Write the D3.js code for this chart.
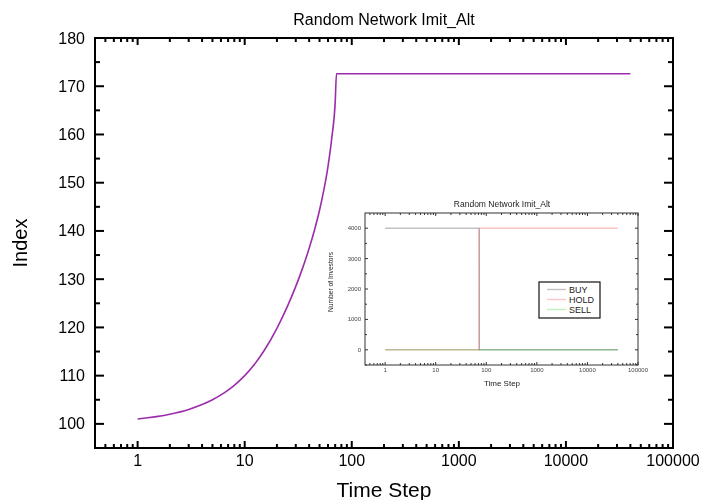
<!DOCTYPE html>
<html>
<head>
<meta charset="utf-8">
<script src="https://cdn.jsdelivr.net/npm/d3@7/dist/d3.min.js"></script>
<style>
  html, body { margin: 0; padding: 0; background: #fff; }
  svg { display: block; font-family: "Liberation Sans", Arial, sans-serif; }
</style>
</head>
<body>
<svg id="chart" width="704" height="500"></svg>
<script>
// Index value over time (main panel)
const timeSteps = [1, 2, 3, 4, 5, 6, 7, 8, 10, 12, 15, 20, 25, 30, 35, 40, 45, 50, 55, 60, 65, 70, 72, 40000];
const indexValues = [101.0, 102.0, 103.0, 104.0, 105.0, 106.0, 107.0, 108.0, 110.0, 112.0, 115.0, 119.8, 124.3, 128.5, 132.5, 136.4, 140.3, 144.3, 148.6, 153.4, 159.2, 166.6, 172.6, 172.6];

// Investor counts per state (inset panel)
const investorSteps = [1, 72, 73, 40000];
const buyCounts = [4000, 4000, 0, 0];
const holdCounts = [0, 0, 4000, 4000];
const sellCounts = [0, 0, 0, 0];
const seriesNames = ["BUY", "HOLD", "SELL"];
const seriesColors = ["#c2c2c2", "#ffc4c4", "#bff2bf"];

// Tick values
const decadeTicks = [1, 10, 100, 1000, 10000, 100000];
const indexTicks = [100, 110, 120, 130, 140, 150, 160, 170, 180];
const countTicks = [0, 1000, 2000, 3000, 4000];

const titleText = "Random Network Imit_Alt";

const svg = d3.select("#chart");

function minorLogTicks(lo, hi) {
  const out = [];
  for (let e = -1; e <= 5; e++) {
    for (let m = 2; m <= 9; m++) {
      const v = m * Math.pow(10, e);
      if (v > lo && v < hi) out.push(v);
    }
  }
  return out;
}

function drawFrame(g, x, y, opts) {
  const [x0, x1] = x.range();
  const [y0, y1] = y.range(); // y0 bottom, y1 top
  const xMinor = minorLogTicks(x.domain()[0], x.domain()[1]);

  // inward ticks on all four sides
  const ticks = g.append("g").attr("stroke", opts.color).attr("stroke-width", opts.tickWidth);
  const vTick = (v, len) => {
    ticks.append("line").attr("x1", x(v)).attr("x2", x(v)).attr("y1", y0).attr("y2", y0 - len);
    ticks.append("line").attr("x1", x(v)).attr("x2", x(v)).attr("y1", y1).attr("y2", y1 + len);
  };
  const hTick = (v, len) => {
    ticks.append("line").attr("y1", y(v)).attr("y2", y(v)).attr("x1", x0).attr("x2", x0 + len);
    ticks.append("line").attr("y1", y(v)).attr("y2", y(v)).attr("x1", x1).attr("x2", x1 - len);
  };
  decadeTicks.forEach(v => vTick(v, opts.xMajor));
  xMinor.forEach(v => vTick(v, opts.xMinor));
  opts.yMajorTicks.forEach(v => hTick(v, opts.yMajor));
  opts.yMinor.forEach(v => hTick(v, opts.yMinorLen));

  g.append("rect")
    .attr("x", x0).attr("y", y1)
    .attr("width", x1 - x0).attr("height", y0 - y1)
    .attr("fill", "none")
    .attr("stroke", opts.color).attr("stroke-width", opts.axisWidth);

  // tick labels
  const labels = g.append("g").attr("fill", opts.textColor).attr("font-size", opts.tickFont);
  decadeTicks.forEach(v => {
    labels.append("text")
      .attr("x", x(v)).attr("y", y0 + opts.xLabelGap)
      .attr("text-anchor", "middle").attr("dominant-baseline", "hanging")
      .text(d3.format("d")(v));
  });
  opts.yMajorTicks.forEach(v => {
    labels.append("text")
      .attr("x", x0 - opts.yLabelGap).attr("y", y(v))
      .attr("text-anchor", "end").attr("dominant-baseline", "central")
      .text(v);
  });
}

// ---------- Main panel ----------
const x = d3.scaleLog().domain([0.4, 100000]).range([95, 673]);
const y = d3.scaleLinear().domain([95, 180]).range([448, 38]);

const main = svg.append("g");

drawFrame(main, x, y, {
  color: "#000", textColor: "#000",
  axisWidth: 2, tickWidth: 2,
  xMajor: 7, xMinor: 4, yMajor: 9, yMinorLen: 5,
  yMajorTicks: indexTicks, yMinor: d3.range(105, 180, 10),
  tickFont: 16, xLabelGap: 7, yLabelGap: 10
});

const indexLine = d3.line()
  .x((d, i) => x(timeSteps[i]))
  .y(d => y(d))
  .curve(d3.curveMonotoneX);

main.append("path")
  .datum(indexValues)
  .attr("d", indexLine)
  .attr("fill", "none")
  .attr("stroke", "#9c2cab")
  .attr("stroke-width", 1.6)
  .attr("stroke-linejoin", "round");

main.append("text")
  .attr("x", 384).attr("y", 19)
  .attr("text-anchor", "middle").attr("dominant-baseline", "central")
  .attr("font-size", 16)
  .text(titleText);

main.append("text")
  .attr("x", 384).attr("y", 489)
  .attr("text-anchor", "middle").attr("dominant-baseline", "central")
  .attr("font-size", 21)
  .text("Time Step");

main.append("text")
  .attr("transform", "translate(20,243) rotate(-90)")
  .attr("text-anchor", "middle").attr("dominant-baseline", "central")
  .attr("font-size", 20)
  .text("Index");

// ---------- Inset panel ----------
const xi = d3.scaleLog().domain([0.4, 100000]).range([365, 638]);
const yi = d3.scaleLinear().domain([-500, 4500]).range([365, 213]);

const inset = svg.append("g");
inset.append("rect")
  .attr("x", 365).attr("y", 213).attr("width", 273).attr("height", 152)
  .attr("fill", "#fff");

const insetSeries = [buyCounts, holdCounts, sellCounts];
const countLine = d3.line()
  .x((d, i) => xi(investorSteps[i]))
  .y(d => yi(d));

insetSeries.forEach((vals, k) => {
  inset.append("path")
    .datum(vals)
    .attr("d", countLine)
    .attr("fill", "none")
    .attr("stroke", seriesColors[k])
    .attr("stroke-width", 1.4)
    .style("mix-blend-mode", "multiply");
});

drawFrame(inset, xi, yi, {
  color: "#333", textColor: "#444",
  axisWidth: 1, tickWidth: 1,
  xMajor: 3, xMinor: 2, yMajor: 3, yMinorLen: 2,
  yMajorTicks: countTicks, yMinor: [-500, 500, 1500, 2500, 3500],
  tickFont: 6, xLabelGap: 3, yLabelGap: 4
});

inset.append("text")
  .attr("x", 502).attr("y", 204)
  .attr("text-anchor", "middle").attr("dominant-baseline", "central")
  .attr("font-size", 8.5).attr("fill", "#222")
  .text(titleText);

inset.append("text")
  .attr("x", 502).attr("y", 383)
  .attr("text-anchor", "middle").attr("dominant-baseline", "central")
  .attr("font-size", 8).attr("fill", "#222")
  .text("Time Step");

inset.append("text")
  .attr("transform", "translate(330,282) rotate(-90)")
  .attr("text-anchor", "middle").attr("dominant-baseline", "central")
  .attr("font-size", 6.7).attr("fill", "#222")
  .text("Number of Investors");

// legend
const legend = inset.append("g");
legend.append("rect")
  .attr("x", 539).attr("y", 282).attr("width", 61).attr("height", 36)
  .attr("fill", "#fff").attr("stroke", "#111").attr("stroke-width", 1.2);
seriesNames.forEach((name, k) => {
  const ly = 289.5 + k * 10;
  legend.append("line")
    .attr("x1", 547).attr("x2", 566).attr("y1", ly).attr("y2", ly)
    .attr("stroke", seriesColors[k]).attr("stroke-width", 1.4);
  legend.append("text")
    .attr("x", 569).attr("y", ly)
    .attr("dominant-baseline", "central")
    .attr("font-size", 9).attr("fill", "#222")
    .text(name);
});
</script>
</body>
</html>
